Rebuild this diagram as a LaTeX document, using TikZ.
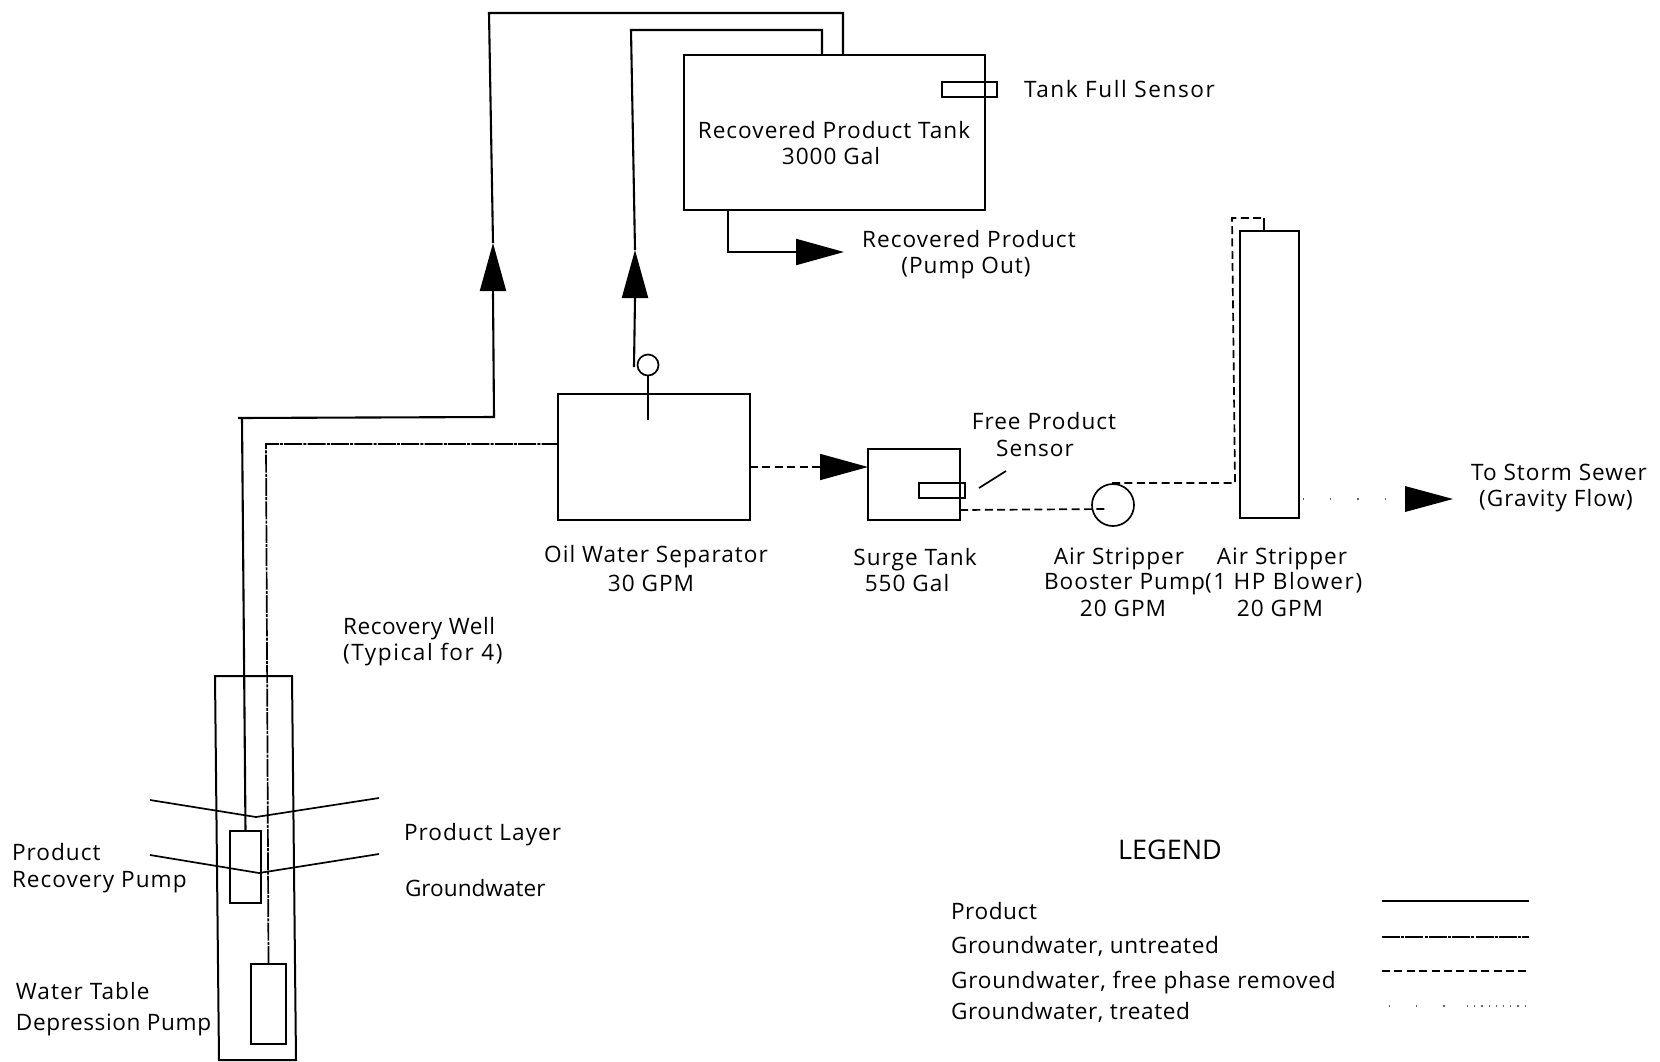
\documentclass[tikz,border=0pt]{standalone}
\usepackage{fontspec}
\setmainfont{Open Sans}[LetterSpace=4.5]
\newfontfamily\midspaced{Open Sans}[LetterSpace=2.6]
\newfontfamily\midplusspaced{Open Sans}[LetterSpace=3.6]
\newfontfamily\widespaced{Open Sans}[LetterSpace=7]
\newfontfamily\plainspaced{Open Sans}
\usetikzlibrary{arrows.meta}
\newcommand{\pxbox}[6][box]{%
  \pgfmathsetmacro{\cxv}{(#3+#5)/2}\pgfmathsetmacro{\cyv}{(#4+#6)/2}%
  \pgfmathsetmacro{\wv}{(#5-#3)*0.5}\pgfmathsetmacro{\hv}{(#6-#4)*0.5}%
  \node[#1,minimum width=\wv pt,minimum height=\hv pt] (#2) at (\cxv,\cyv) {};}
\tikzset{
  box/.style={draw=black,line width=1pt,inner sep=0pt,outer sep=0pt,fill=white},
  thinbox/.style={draw=black,line width=.85pt,inner sep=0pt,outer sep=0pt},
  lbl/.style={inner sep=0pt,outer sep=0pt,yshift=-1.3pt,font=\fontsize{11.3}{13}\selectfont,text=black},
  midlbl/.style={lbl,font=\fontsize{11.3}{13}\selectfont\midspaced},
  midpluslbl/.style={lbl,font=\fontsize{11.3}{13}\selectfont\midplusspaced},
  widelbl/.style={lbl,font=\fontsize{11.3}{13}\selectfont\widespaced},
  plainlbl/.style={lbl,font=\fontsize{11.3}{13}\selectfont\plainspaced},
  prod/.style={draw=black,line width=1.05pt,line join=miter},
  untreated/.style={draw=black,line width=.85pt,dash pattern=on 9pt off .6pt on 1.5pt off .6pt},
  removed/.style={draw=black,line width=.85pt,dash pattern=on 4pt off 2.2pt},
  treated/.style={draw=black!60,line width=.55pt,dash pattern=on .6pt off 13pt},
  treateddense/.style={draw=black!60,line width=.55pt,dash pattern=on .6pt off 3pt},
  level/.style={draw=black,line width=.85pt},
  headtip/.style={-{Triangle[length=24pt,width=13pt,fill=black]}},
}
\begin{document}
\begin{tikzpicture}[x=0.5pt,y=-0.5pt]
\path[use as bounding box,fill=white] (0,0) rectangle (1660,1061);
% well
\coordinate (wtl) at (215,676); \coordinate (wtr) at (292,676);
\coordinate (wbr) at (296,1060); \coordinate (wbl) at (219,1060);
\draw[line width=1pt] (wtl) -- (wtr) -- (wbr) -- (wbl) -- cycle;
\pxbox{ppump}{230}{831}{261}{903}
\pxbox{dpump}{251}{964}{286}{1044}
% equipment
\pxbox{tank}{684}{55}{985}{210}
\pxbox[thinbox]{fullsensor}{942}{82}{997}{97}
\pxbox{sep}{558}{394}{750}{520}
\pxbox{surge}{868}{449}{960}{520}
\pxbox[thinbox]{freesensor}{919}{483}{965}{498}
\pxbox{stripper}{1240}{231}{1299}{518}
\node[draw=black,line width=.85pt,circle,minimum size=21pt,inner sep=0pt,outer sep=0pt] (bpump) at (1113,505) {};
\node[draw=black,line width=.85pt,circle,minimum size=10.5pt,inner sep=0pt,outer sep=0pt] (sepgauge) at (648,365) {};
% waypoints
\coordinate (a0) at (238,418); \coordinate (a1) at (242,418); \coordinate (a2) at (494,417);
\coordinate (a3) at (493,294); \coordinate (a4) at (493,243);
\coordinate (a5) at (489,13); \coordinate (a6) at (843,13);
\coordinate (b0) at (634,367); \coordinate (b1) at (635,298);
\coordinate (b2) at (635,250); \coordinate (b3) at (631,30);
\coordinate (b4) at (822,30);
\coordinate (c1) at (266,444);
\coordinate (d1) at (728,252); \coordinate (d2) at (844,252);
\coordinate (e1) at (648,420);
\coordinate (f1) at (1108,509);
\coordinate (g1) at (1112,483); \coordinate (g2) at (1235,483);
\coordinate (g3) at (1232,218); \coordinate (g4) at (1264,218);
\coordinate (h1) at (1453,499);
% product
\draw[prod] (ppump.north) -- (a1);
\draw[prod] (a0) -- (a2) -- (a3);
\draw[prod,headtip] (a3) -- (a4);
\draw[prod] (a4) -- (a5) -- (a6) -- (a6 |- tank.north);
\draw[prod] (b0) -- (b1);
\draw[prod,headtip] (b1) -- (b2);
\draw[prod] (b2) -- (b3) -- (b4) -- (b4 |- tank.north);
\draw[prod,headtip] (d1 |- tank.south) -- (d1) -- (d2);
\draw[line width=.85pt] (e1) -- (sepgauge.south);
% untreated
\draw[untreated] (dpump.north) -- (c1) -- (sep.west |- c1);
% free phase removed
\coordinate (k1) at (750,467);
\draw[removed,headtip] (k1) -- (surge.west |- k1);
\coordinate (k2) at (960,510);
\draw[removed] (k2) -- (f1);
\draw[removed] (g1) -- (g2) -- (g3) -- (g4);
\draw[line width=.85pt] (g4) -- (g4 |- stripper.north);
% treated
\coordinate (h0) at (1303,499);
\draw[treated] (h0) -- (1408,499);
\draw[headtip,draw=none,fill=black,prod,line width=0pt] (1407,499) -- (h1);
% levels
\coordinate (l1) at (150,800); \coordinate (l2) at (256,817); \coordinate (l3) at (379,798);
\coordinate (m1) at (150,855); \coordinate (m2) at (259,873); \coordinate (m3) at (379,854);
\draw[level] (l1) -- (l2) -- (l3);
\draw[level] (m1) -- (m2) -- (m3);
% sensor leader
\coordinate (n1) at (979,488); \coordinate (n2) at (1006,471);
\draw[level] (n1) -- (n2);
% legend lines
\coordinate (q1) at (1382,901); \coordinate (q2) at (1529,901);
\coordinate (q3) at (1382,937); \coordinate (q4) at (1529,937);
\coordinate (q5) at (1382,971); \coordinate (q6) at (1529,971);
\coordinate (q7) at (1389,1006); \coordinate (q9) at (1467,1006); \coordinate (q8) at (1529,1006);
\draw[prod] (q1) -- (q2);
\draw[untreated] (q3) -- (q4);
\draw[removed] (q5) -- (q6);
\draw[treated] (q7) -- (q9);
\draw[treateddense] (q9) -- (q8);
% labels
\node[widelbl,anchor=mid west] (t1) at (1024,90) {Tank Full Sensor};
\node[lbl,anchor=mid] (t2) at (834,131) {Recovered Product Tank};
\node[lbl,anchor=mid] (t3) at (831,157) {3000 Gal};
\node[lbl,anchor=mid] (t4) at (969,240) {Recovered Product};
\node[lbl,anchor=mid] (t5) at (966,266) {(Pump Out)};
\node[lbl,anchor=mid] (t6) at (1044,422) {Free Product};
\node[lbl,anchor=mid] (t7) at (1035,449) {Sensor};
\node[lbl,anchor=mid] (t8) at (1559,473) {To Storm Sewer};
\node[lbl,anchor=mid] (t9) at (1556,499) {(Gravity Flow)};
\node[lbl,anchor=mid] (t10) at (656,555) {Oil Water Separator};
\node[lbl,anchor=mid] (t11) at (651,584) {30 GPM};
\node[lbl,anchor=mid] (t12) at (915,558) {Surge Tank};
\node[lbl,anchor=mid] (t13) at (907,584) {550 Gal};
\node[lbl,anchor=mid] (t14) at (1119,557) {Air Stripper};
\node[lbl,anchor=mid east] (t15) at (1205,582) {Booster Pump};
\node[lbl,anchor=mid] (t16) at (1123,609) {20 GPM};
\node[lbl,anchor=mid] (t17) at (1282,557) {Air Stripper};
\node[widelbl,anchor=mid west] (t18) at (1205,582) {(1 HP Blower)};
\node[lbl,anchor=mid] (t19) at (1280,609) {20 GPM};
\node[midlbl,anchor=mid west] (t20) at (343,627) {Recovery Well};
\node[widelbl,anchor=mid west] (t21) at (343,653) {(Typical for 4)};
\node[lbl,anchor=mid west] (t22) at (404,833) {Product Layer};
\node[plainlbl,anchor=mid west] (t23) at (405,889) {Groundwater};
\node[lbl,anchor=mid west] (t24) at (12,853) {Product};
\node[lbl,anchor=mid west] (t25) at (12,880) {Recovery Pump};
\node[lbl,anchor=mid west] (t26) at (16,992) {Water Table};
\node[midlbl,anchor=mid west] (t27) at (16,1023) {Depression Pump};
\node[lbl,anchor=mid,font=\fontsize{13.5}{15}\selectfont\plainspaced] (t28) at (1170,852) {LEGEND};
\node[midlbl,anchor=mid west] (t29) at (951,912) {Product};
\node[midlbl,anchor=mid west] (t30) at (951,946) {Groundwater, untreated};
\node[midpluslbl,anchor=mid west] (t31) at (951,981) {Groundwater, free phase removed};
\node[midlbl,anchor=mid west] (t32) at (951,1012) {Groundwater, treated};
\end{tikzpicture}
\end{document}
